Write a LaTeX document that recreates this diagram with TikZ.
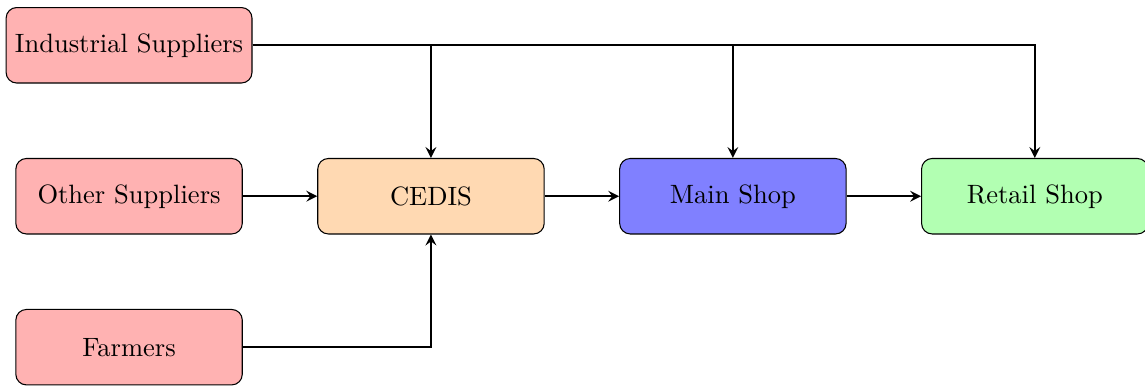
\documentclass[tikz,border=0pt]{standalone}
\usetikzlibrary{arrows.meta}
\begin{document}
\begin{tikzpicture}[
  box/.style={draw, rounded corners, minimum width=3cm, minimum height=1cm, align=center},
  flow/.style={thick, -stealth}
]
\useasboundingbox (-5.71,-2.52) rectangle (9.46,2.6);
\node[box, fill=red!30] (ind) at (-4,2) {Industrial Suppliers};
\node[box, fill=red!30] (oth) at (-4,0) {Other Suppliers};
\node[box, fill=red!30] (farm) at (-4,-2) {Farmers};
\node[box, fill=orange!30] (cedis) at (0,0) {CEDIS};
\node[box, fill=blue!50] (main) at (4,0) {Main Shop};
\node[box, fill=green!30] (ret) at (8,0) {Retail Shop};
\draw[flow] (oth) -- (cedis);
\draw[flow] (cedis) -- (main);
\draw[flow] (main) -- (ret);
\draw[flow] (farm.east) -| (cedis.south);
\draw[flow] (ind.east) -| (ret.north);
\draw[flow] (ind.east) -| (cedis.north);
\draw[flow] (ind.east) -| (main.north);
\end{tikzpicture}
\end{document}
